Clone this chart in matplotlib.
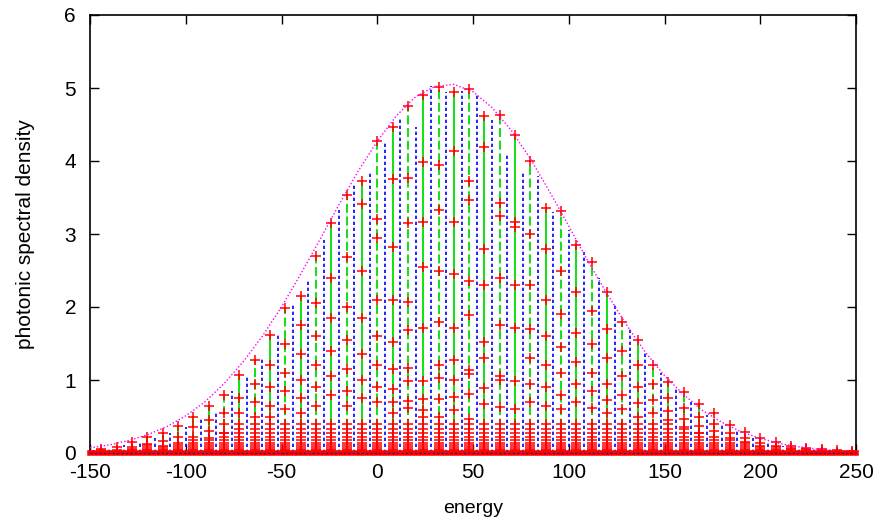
import matplotlib
matplotlib.use('Agg')
import matplotlib.pyplot as plt

plt.rcParams['font.family'] = ['Liberation Sans', 'DejaVu Sans']
plt.rcParams['axes.unicode_minus'] = False

# impulse positions (energy) and heights
green_x = [-144, -136, -128, -120, -112, -104, -96, -88, -80, -72, -64, -56, -48, -40,
           -32, -24, -16, -8, 0, 8, 16, 24, 32, 40, 48, 56, 64, 72, 80, 88, 96, 104,
           112, 120, 128, 136, 144, 152, 160, 168, 176, 184, 192, 200, 208, 216, 224,
           232, 240, 248]
green_top = [0.05, 0.08, 0.15, 0.22, 0.28, 0.37, 0.50, 0.64, 0.79, 1.07, 1.27, 1.62, 1.98,
             2.15, 2.70, 3.15, 3.53, 3.72, 4.27, 4.46, 4.76, 4.90, 5.02, 4.95, 4.98, 4.61,
             4.63, 4.36, 4.00, 3.36, 3.32, 2.85, 2.62, 2.20, 1.80, 1.55, 1.20, 0.97, 0.84,
             0.67, 0.55, 0.38, 0.29, 0.20, 0.15, 0.10, 0.07, 0.05, 0.04, 0.03]

blue_x = [-148, -140, -132, -124, -116, -108, -100, -92, -84, -76, -68, -60, -52, -44,
          -36, -28, -20, -12, -4, 4, 12, 20, 28, 36, 44, 52, 60, 68, 76, 84, 92, 100,
          108, 116, 124, 132, 140, 148, 156, 164, 172, 180, 188, 196, 204, 212, 220,
          228, 236, 244]
blue_top = [0.04, 0.07, 0.11, 0.16, 0.21, 0.28, 0.36, 0.50, 0.55, 0.85, 1.05, 1.30, 1.65,
            2.05, 2.35, 2.92, 3.33, 3.67, 3.86, 4.26, 4.58, 4.47, 5.03, 4.95, 4.96, 4.90,
            4.56, 4.10, 3.85, 3.80, 3.30, 3.05, 2.75, 2.40, 2.05, 1.70, 1.40, 1.10, 0.90,
            0.70, 0.52, 0.40, 0.30, 0.20, 0.14, 0.10, 0.07, 0.05, 0.04, 0.03]

# red crosses along each green impulse (upper part)
cross_levels = [
    [0.05], [0.08, 0.04], [0.15, 0.08], [0.22, 0.12], [0.28, 0.17, 0.10],
    [0.37, 0.22, 0.14], [0.50, 0.35, 0.22], [0.64, 0.45, 0.30, 0.20],
    [0.79, 0.55, 0.40, 0.28], [1.07, 0.75, 0.55, 0.40], [1.27, 0.95, 0.70, 0.50],
    [1.62, 1.20, 0.90, 0.65, 0.50], [1.98, 1.50, 1.10, 0.85, 0.60],
    [2.15, 1.75, 1.35, 1.00, 0.75, 0.55], [2.70, 2.05, 1.60, 1.20, 0.90, 0.65],
    [3.15, 2.40, 1.85, 1.40, 1.05, 0.80], [3.53, 2.69, 2.00, 1.55, 1.15, 0.85, 0.65],
    [3.72, 3.41, 2.50, 1.85, 1.35, 1.00, 0.75],
    [4.27, 3.20, 2.94, 2.10, 1.60, 1.20, 0.90, 0.70],
    [4.46, 3.75, 2.82, 2.10, 1.52, 1.15, 0.88, 0.70, 0.55],
    [4.76, 3.77, 3.15, 2.07, 1.69, 1.16, 0.98, 0.71, 0.62],
    [4.90, 3.99, 3.16, 2.55, 1.71, 0.99, 0.74, 0.59, 0.49],
    [5.02, 3.94, 3.33, 2.50, 1.79, 1.21, 1.03, 0.74, 0.49],
    [4.95, 4.14, 3.16, 2.45, 1.71, 1.27, 1.00, 0.77, 0.59],
    [4.98, 3.73, 3.47, 2.35, 1.89, 1.14, 1.08, 0.81, 0.47],
    [4.61, 4.19, 2.79, 2.30, 1.52, 1.30, 0.89, 0.67],
    [4.63, 3.42, 3.24, 2.40, 1.75, 1.05, 1.00, 0.63],
    [4.36, 3.16, 3.10, 2.30, 1.71, 0.98, 0.60],
    [4.00, 3.00, 2.30, 1.70, 1.30, 0.95, 0.70],
    [3.36, 2.80, 2.10, 1.60, 1.20, 0.90, 0.65],
    [3.32, 2.50, 1.90, 1.45, 1.10, 0.80, 0.60],
    [2.85, 2.20, 1.65, 1.25, 0.95, 0.70],
    [2.62, 1.95, 1.50, 1.10, 0.85, 0.62],
    [2.20, 1.70, 1.30, 0.95, 0.72, 0.55],
    [1.80, 1.40, 1.05, 0.80, 0.60],
    [1.55, 1.20, 0.90, 0.68, 0.50],
    [1.20, 0.95, 0.72, 0.55, 0.40],
    [0.97, 0.75, 0.58, 0.45],
    [0.84, 0.62, 0.47, 0.35],
    [0.67, 0.50, 0.37, 0.28],
    [0.55, 0.40, 0.30, 0.22],
    [0.38, 0.28, 0.20], [0.29, 0.21, 0.15], [0.20, 0.14, 0.10], [0.15, 0.10],
    [0.10, 0.07], [0.07], [0.05], [0.04], [0.03],
]
# dense cluster of crosses near the floor
low_levels = [0.0, 0.02, 0.04, 0.06, 0.08, 0.11, 0.14, 0.18, 0.22, 0.27, 0.33, 0.40]

# envelope
env_x = list(range(-150, 251, 10))
env_y = [0.07, 0.11, 0.17, 0.25, 0.36, 0.51, 0.70, 0.95, 1.25, 1.60, 2.00, 2.45, 2.92,
         3.40, 3.86, 4.27, 4.62, 4.88, 5.02, 5.05, 4.95, 4.73, 4.42, 4.03, 3.58, 3.11,
         2.63, 2.18, 1.76, 1.38, 1.06, 0.80, 0.58, 0.42, 0.29, 0.20, 0.13, 0.085, 0.054,
         0.033, 0.02]

fig = plt.figure(figsize=(8.86, 5.21), dpi=100)
ax = fig.add_axes([90 / 886, 68 / 521, 766 / 886, 438 / 521])

green = '#00dd00'
solid_x = [x for i, x in enumerate(green_x) if i % 2 == 1]
solid_y = [y for i, y in enumerate(green_top) if i % 2 == 1]
dash_x = [x for i, x in enumerate(green_x) if i % 2 == 0]
dash_y = [y for i, y in enumerate(green_top) if i % 2 == 0]
ax.vlines(solid_x, 0, solid_y, colors=green, linewidth=1.3)
ax.vlines(dash_x, 0, dash_y, colors=green, linewidth=1.3, linestyles=(0, (5, 2)))
ax.vlines(blue_x, 0, blue_top, colors='#0000ff', linewidth=1.2, linestyles=(0, (2, 1.6)))

cx, cy = [], []
for x, top, levels in zip(green_x, green_top, cross_levels):
    for v in levels:
        cx.append(x)
        cy.append(v)
    for v in low_levels:
        if v < min(levels):
            cx.append(x)
            cy.append(v)
ax.plot(cx, cy, '+', color='red', markersize=7, markeredgewidth=1.1, zorder=3)

ax.plot(env_x, env_y, color='#ff00ff', linewidth=1.0, linestyle=(0, (1, 1.5)), zorder=4)

ax.axhline(0, color='red', linewidth=4, clip_on=False, zorder=5)
ax.axhline(0, color='#202070', linewidth=0.8, linestyle=(0, (2, 2)), clip_on=False, zorder=6)

ax.set_xlim(-150, 250)
ax.set_ylim(0, 6)
ax.set_xticks(range(-150, 251, 50))
ax.set_yticks(range(0, 7))
ax.tick_params(direction='in', length=6.5, width=1, top=True, right=True, labelsize=15)
ax.tick_params(axis='y', pad=10)
ax.tick_params(axis='x', pad=7)
for s in ax.spines.values():
    s.set_linewidth(1.2)

ax.set_xlabel('energy', fontsize=14, labelpad=13)
ax.set_ylabel('photonic spectral density', fontsize=15, labelpad=21)

fig.savefig('out.png', dpi=100)
